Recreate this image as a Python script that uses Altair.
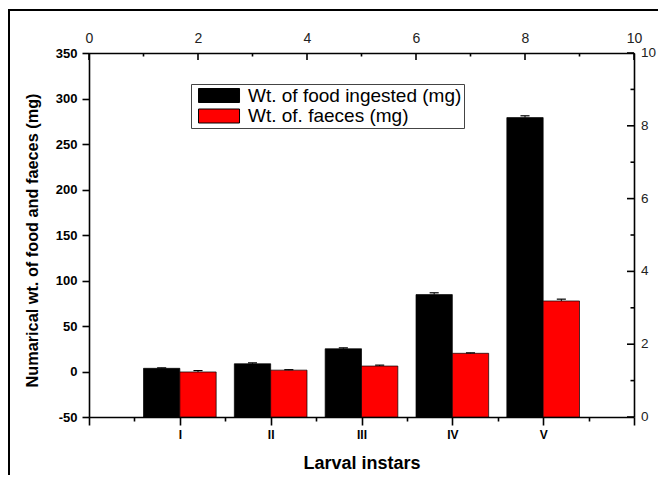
import json
import altair as alt
import pandas as pd

# ---- data ----
instars = ["I", "II", "III", "IV", "V"]
series_names = ["Wt. of food ingested (mg)", "Wt. of. faeces (mg)"]
food = [3.5, 8.5, 25.0, 84.5, 279.0]
food_err = [0.5, 1.0, 1.0, 2.0, 2.0]
faeces = [-0.5, 1.5, 6.0, 20.0, 77.5]
faeces_err = [1.5, 0.5, 1.0, 0.5, 2.0]

left_ticks = list(range(-50, 351, 25))
bottom_ticks = [i / 2 for i in range(0, 13)]
top_ticks = list(range(0, 11))
right_ticks = list(range(0, 11))
colors = ["#000000", "#ff0000"]

rows = []
for i, name in enumerate(instars):
    k = i + 1
    for j, (vals, errs) in enumerate([(food, food_err), (faeces, faeces_err)]):
        x0 = k - 0.4 + 0.4 * j
        rows.append(dict(instar=name, series=series_names[j], x0=x0, x1=x0 + 0.4,
                         xc=x0 + 0.2, cl=x0 + 0.15, cr=x0 + 0.25,
                         value=vals[i], hi=vals[i] + errs[i]))
df = pd.DataFrame(rows)

FONT = "Liberation Sans"

x_scale = alt.Scale(domain=[0, 6], nice=False, zero=False)
y_scale = alt.Scale(domain=[-50, 350], nice=False, zero=False)

label_list = json.dumps([""] + instars + [""])
x_axis = alt.Axis(
    values=bottom_ticks,
    labelExpr=f"datum.value % 1 == 0 ? {label_list}[datum.value] : ''",
    tickSize={"condition": {"test": "datum.value % 1 == 0", "value": 8}, "value": 4},
    tickColor="black", tickWidth=1.6, domainColor="black", domainWidth=1.6,
    labelFont=FONT, labelFontSize=12, labelFontWeight="bold", labelColor="black",
    labelPadding=4, labelAngle=0, labelOverlap=False, labelFlush=False, grid=False,
    title="Larval instars", titleFont=FONT, titleFontSize=18, titleFontWeight="bold",
    titleColor="black", titleBaseline="middle", titleY=46,
)
y_axis = alt.Axis(
    values=left_ticks,
    labelExpr="datum.value % 50 == 0 ? '' + datum.value : ''",
    tickSize={"condition": {"test": "datum.value % 50 == 0", "value": 7}, "value": 3},
    tickColor="black", tickWidth=1.6, domainColor="black", domainWidth=1.6,
    labelFont=FONT, labelFontSize=13, labelFontWeight="bold", labelColor="black",
    labelPadding=5, labelOverlap=False, labelFlush=False, grid=False,
    title="Numarical wt. of food and faeces (mg)", titleFont=FONT, titleFontSize=16.3,
    titleFontWeight="bold", titleColor="black", titleBaseline="middle",
    titleAlign="center", titleX=-57, titleY=187,
)

legend = alt.Legend(
    title=None, orient="none", legendX=102, legendY=31,
    symbolType="M-0.57,-1H5.29V1H-0.57Z", symbolSize=196,
    symbolStrokeColor="black", symbolStrokeWidth=1, symbolOpacity=1,
    labelFont=FONT, labelFontSize=19, labelColor="black", labelOffset=36,
    labelLimit=400, strokeColor="#444", fillColor="white", padding=2, rowPadding=0.5,
)

bars = alt.Chart().mark_rect(stroke="black", strokeWidth=0.7).encode(
    x=alt.X("x0:Q", scale=x_scale, axis=x_axis),
    x2="x1:Q",
    y=alt.Y("value:Q", scale=y_scale, axis=y_axis),
    y2=alt.datum(-50),
    color=alt.Color("series:N", scale=alt.Scale(domain=series_names, range=colors),
                    legend=legend),
)
err = alt.Chart().mark_rule(color="black", strokeWidth=1).encode(
    x=alt.X("xc:Q"), y=alt.Y("value:Q"), y2="hi:Q",
)
caps = alt.Chart().mark_rule(color="black", strokeWidth=1.2).encode(
    x=alt.X("cl:Q"), x2="cr:Q", y=alt.Y("hi:Q"),
)
inner = alt.layer(bars, err, caps, data=df)

# ---- secondary (top / right) axes, ticks drawn inward ----
axis_df = pd.DataFrame({"tx": [top_ticks[0], top_ticks[-1]],
                        "ry": [right_ticks[0], right_ticks[-1]]})
top_axis = alt.Axis(
    orient="top", values=top_ticks,
    labelExpr="datum.value % 2 == 0 ? '' + datum.value : ''",
    ticks=False, tickSize=0, domainColor="black", domainWidth=1.6,
    labelFont=FONT, labelFontSize=14, labelColor="#222", labelPadding=7.5,
    labelBaseline="bottom", labelAngle=0, labelOverlap=False, labelFlush=False,
    grid=False, title=None,
)
right_axis = alt.Axis(
    orient="right", values=right_ticks, labels=False,
    ticks=False, tickSize=0, domainColor="black", domainWidth=1.6,
    grid=False, title=None,
)
sec_scale_x = alt.Scale(domain=[0, 10], nice=False, zero=False)
sec_scale_y = alt.Scale(domain=[0, 10], nice=False, zero=False)
axes_pts = alt.Chart(axis_df).mark_point(opacity=0).encode(
    x=alt.X("tx:Q", scale=sec_scale_x, axis=top_axis),
    y=alt.Y("ry:Q", scale=sec_scale_y, axis=right_axis),
)
tick_df = pd.DataFrame({"t": right_ticks})
top_major = alt.Chart(tick_df).transform_filter("datum.t % 2 == 0").mark_rule(
    color="black", strokeWidth=1.6).encode(
    x=alt.X("t:Q"), y=alt.value(0), y2=alt.value(7))
top_minor = alt.Chart(tick_df).transform_filter("datum.t % 2 == 1").mark_rule(
    color="black", strokeWidth=1.6).encode(
    x=alt.X("t:Q"), y=alt.value(0), y2=alt.value(3.5))
right_major = alt.Chart(tick_df).transform_filter("datum.t % 2 == 0").mark_rule(
    color="black", strokeWidth=1.6).encode(
    y=alt.Y("t:Q"), x=alt.value(545), x2=alt.value(538))
right_minor = alt.Chart(tick_df).transform_filter("datum.t % 2 == 1").mark_rule(
    color="black", strokeWidth=1.6).encode(
    y=alt.Y("t:Q"), x=alt.value(545), x2=alt.value(541.5))
right_labels = alt.Chart(tick_df).transform_filter("datum.t % 2 == 0").mark_text(
    align="left", baseline="middle", font=FONT, fontSize=13.5, color="#222").encode(
    y=alt.Y("t:Q"), x=alt.value(552), text=alt.Text("t:Q"))
secondary = alt.layer(axes_pts, top_major, top_minor, right_major, right_minor,
                      right_labels)

one = pd.DataFrame({"k": [0]})
frame_left = alt.Chart(one).mark_rule(color="black", strokeWidth=2).encode(
    x=alt.value(-80), y=alt.value(-43), y2=alt.value(440),
)
frame_top = alt.Chart(one).mark_rule(color="black", strokeWidth=2).encode(
    x=alt.value(-81), x2=alt.value(569), y=alt.value(-43),
)

chart = alt.layer(inner, secondary, frame_left, frame_top).resolve_scale(
    x="independent", y="independent"
).properties(
    width=545, height=364,
    autosize=alt.AutoSizeParams(type="none"),
    padding={"left": 81, "top": 45, "right": 24, "bottom": 58},
).configure_view(stroke="transparent")

chart.save("out.html", embed_options={"renderer": "svg", "actions": False})
